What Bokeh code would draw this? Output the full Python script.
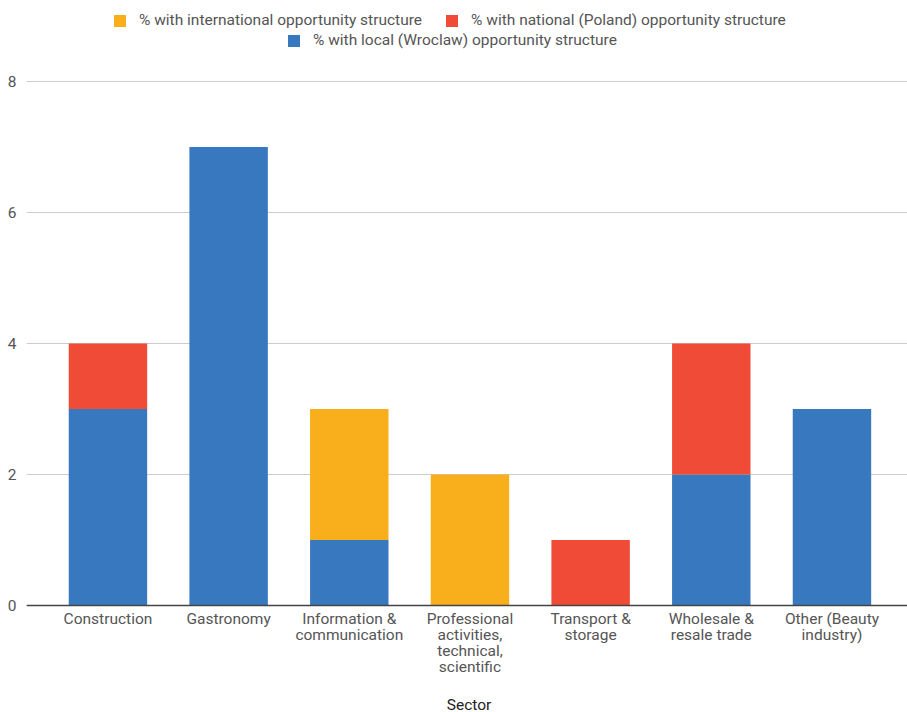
from bokeh.plotting import figure
from bokeh.models import (ColumnDataSource, Range1d, Legend, LegendItem,
                          FixedTicker, Span, Label)
from bokeh.core.properties import value
from bokeh.embed import file_html
from bokeh.resources import INLINE

sectors = ["Construction", "Gastronomy", "Information &\ncommunication",
           "Professional\nactivities,\ntechnical,\nscientific", "Transport &\nstorage",
           "Wholesale &\nresale trade", "Other (Beauty\nindustry)"]
local_vals = [3, 7, 1, 0, 0, 2, 3]
national_vals = [1, 0, 0, 0, 1, 2, 0]
international_vals = [0, 0, 2, 2, 0, 0, 0]
series = ["local", "national", "international"]
labels = ["% with local (Wroclaw) opportunity structure",
          "% with national (Poland) opportunity structure",
          "% with international opportunity structure"]
colors = ["#3778BF", "#F04B37", "#F9AE1B"]
y_ticks = [0, 2, 4, 6, 8]
x_title = "Sector"

idx = list(range(len(sectors)))
src = ColumnDataSource(dict(idx=idx, sector=sectors, local=local_vals,
                            national=national_vals, international=international_vals))

H = 712
ZERO_PX = 605          # screen y of value 0 (from top)
PX_PER_UNIT = 65.5
LINE_H = 16
p = figure(width=907, height=H, output_backend="svg", toolbar_location=None,
           x_range=Range1d(-0.675, len(sectors) - 1 + 0.626),
           y_range=Range1d(-(H - ZERO_PX) / PX_PER_UNIT, ZERO_PX / PX_PER_UNIT),
           x_axis_location=None,
           min_border_left=26, min_border_right=0, min_border_top=0, min_border_bottom=0)
p.outline_line_color = None

rs = p.vbar_stack(series, x="idx", width=0.65, color=colors, line_color=None, source=src)

p.yaxis.ticker = FixedTicker(ticks=y_ticks)
p.yaxis.axis_line_color = None
p.yaxis.major_tick_line_color = None
p.yaxis.minor_tick_line_color = None
p.yaxis.major_label_standoff = 4
p.yaxis.major_label_text_font = "Roboto"
p.yaxis.major_label_text_font_size = "15.5px"
p.yaxis.major_label_text_color = "#555555"
p.xgrid.grid_line_color = None
p.ygrid.grid_line_color = "#CCCCCC"
p.ygrid.ticker = FixedTicker(ticks=y_ticks)

p.add_layout(Span(location=0, dimension="width", line_color="#444444", line_width=1.3))

# category labels, one text per line so the line spacing can be set
lx, ly, lt, loff = [], [], [], []
for i_s, s in enumerate(sectors):
    for i, line in enumerate(s.split("\n")):
        lx.append(i_s)
        ly.append(0)
        lt.append(line)
        loff.append(4 + i * LINE_H)
lab_src = ColumnDataSource(dict(x=lx, y=ly, t=lt, off=loff))
p.text(x="x", y="y", text="t", y_offset="off", source=lab_src,
       text_align="center", text_baseline="top", text_font=value("Roboto"),
       text_font_size="15.5px", text_color="#555555")

p.add_layout(Label(x=(907 - 26) / 2 + 2, y=8, x_units="screen", y_units="screen",
                   text=x_title, text_align="center", text_baseline="middle",
                   text_font="Roboto", text_font_size="15.5px", text_color="#222222"))

def mk_legend(items, loc):
    return Legend(items=items, location=loc, orientation="horizontal",
                  border_line_color=None, background_fill_alpha=0,
                  label_text_font="Roboto", label_text_font_size="15.5px",
                  label_text_color="#555555", glyph_width=15, glyph_height=15,
                  label_standoff=12, spacing=22, padding=0, margin=0)

leg1 = mk_legend([LegendItem(label=labels[2], renderers=[rs[2]]),
                  LegendItem(label=labels[1], renderers=[rs[1]])], (86, H - 29))
leg2 = mk_legend([LegendItem(label=labels[0], renderers=[rs[0]])], (260, H - 49))
p.add_layout(leg1)
p.add_layout(leg2)

open("out.html", "w").write(file_html(p, INLINE))
